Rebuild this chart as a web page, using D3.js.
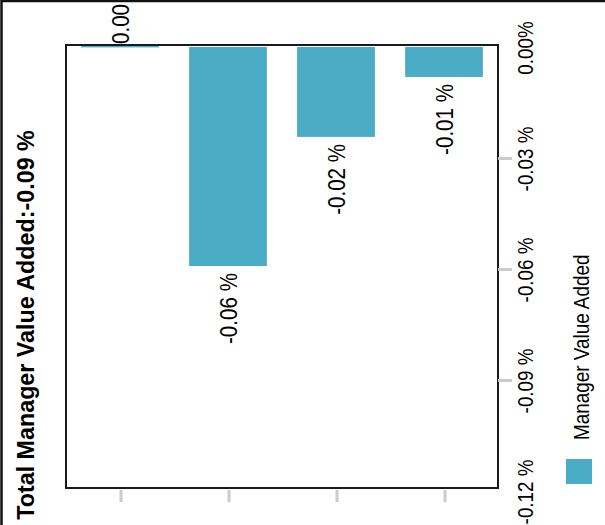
<!DOCTYPE html>
<html><head><meta charset="utf-8">
<script src="https://cdn.jsdelivr.net/npm/d3@7"></script>
<style>body{margin:0;background:#fff}svg{display:block}</style>
</head><body>
<script>
// data
const categories = ["Cat 1", "Cat 2", "Cat 3", "Cat 4"];
const values = [0.0003, -0.0592, -0.0243, -0.0081];
const valueLabels = ["0.00 %", "-0.06 %", "-0.02 %", "-0.01 %"];
const yTicks = [0, -0.03, -0.06, -0.09, -0.12];
const yTickLabels = ["0.00%", "-0.03 %", "-0.06 %", "-0.09 %", "-0.12 %"];
const seriesName = "Manager Value Added";
const title = "Total Manager Value Added:-0.09 %";

const W = 605, H = 525, color = "#4bacc6";
const svg = d3.select("body").append("svg").attr("width", W).attr("height", H);

// outer frame
svg.append("rect").attr("x", 1.5).attr("y", 1).attr("width", 800).attr("height", 800)
  .attr("fill", "none").attr("stroke", "#111").attr("stroke-width", 2.5);

const plot = {left: 66, top: 45, right: 498, bottom: 488};
const x = d3.scaleBand().domain(categories).range([plot.left, plot.right]).paddingInner(0.28).paddingOuter(0.14);
const y = d3.scaleLinear().domain([-0.12, 0]).range([491, 47]);

// bars
svg.selectAll("rect.bar").data(values).enter().append("rect").attr("class", "bar")
  .attr("x", (d, i) => x(categories[i]))
  .attr("width", x.bandwidth())
  .attr("y", d => Math.min(y(d), y(0)))
  .attr("height", d => Math.max(1.5, Math.abs(y(d) - y(0))))
  .attr("fill", color);

// plot border
svg.append("rect").attr("x", plot.left).attr("y", plot.top)
  .attr("width", plot.right - plot.left).attr("height", plot.bottom - plot.top)
  .attr("fill", "none").attr("stroke", "#1a1a1a").attr("stroke-width", 2);

// category ticks (bottom)
const xAxis = d3.axisBottom(x).tickSize(12).tickFormat("");
const gx = svg.append("g").attr("transform", `translate(1,${plot.bottom + 2})`).call(xAxis);
gx.select(".domain").remove();
gx.selectAll(".tick line").attr("stroke", "#c7ccd1").attr("stroke-width", 3);

// value ticks (right)
const yAxis = d3.axisRight(y).tickValues(yTicks).tickSize(14).tickFormat("");
const gy = svg.append("g").attr("transform", `translate(${plot.right},0)`).call(yAxis);
gy.select(".domain").remove();
gy.selectAll(".tick line").attr("stroke", "#c7ccd1").attr("stroke-width", 3)
  .attr("opacity", d => (d === 0 || d === -0.12) ? 0 : 1);

function rtext(g, xx, yy, txt, size, anchor, sx, weight) {
  return g.append("text")
    .attr("transform", `translate(${xx},${yy}) rotate(-90) scale(1,${sx})`)
    .attr("text-anchor", anchor)
    .attr("font-family", "'Liberation Sans', Arial, sans-serif")
    .attr("font-size", size)
    .attr("font-weight", weight || "normal")
    .attr("fill", "#000")
    .text(txt);
}

// value axis tick labels
yTicks.forEach((t, i) => rtext(svg, 533, y(t) + 1, yTickLabels[i], 18.8, "middle", 1.15));

// bar value labels
values.forEach((v, i) => {
  const cx = x(categories[i]) + x.bandwidth() / 2;
  if (v >= 0) rtext(svg, cx + 9, Math.min(y(v), plot.top) - 1, valueLabels[i], 20.6, "start", 1.15);
  else rtext(svg, cx + 8.5, y(v) + 7, valueLabels[i], 20.6, "end", 1.15);
});

// title
rtext(svg, 34, 325, title, 23.3, "middle", 1.03, "bold");

// legend
svg.append("rect").attr("x", 566).attr("y", 459).attr("width", 26).attr("height", 25).attr("fill", color);
rtext(svg, 589, 440, seriesName, 18.9, "start", 1.17);
</script>
</body></html>
